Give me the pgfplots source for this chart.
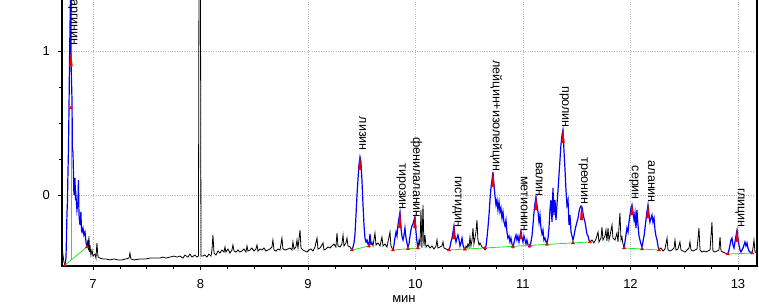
\documentclass[border=0pt]{standalone}
\usepackage{fontspec}
\setmainfont{Liberation Sans}
\usepackage{pgfplots}
\pgfplotsset{compat=1.18}
\definecolor{trgreen}{RGB}{40,225,40}
\definecolor{trblue}{RGB}{0,0,255}
\definecolor{trred}{RGB}{240,0,0}
\newcommand\lbl[3]{\node[rotate=-90, anchor=base east, inner sep=0pt, font=\fontsize{12.5}{14}\selectfont] at (axis cs:#1,#2) {#3};}
\begin{document}
\begin{tikzpicture}
\useasboundingbox (0,0) rectangle (759pt,305pt);
\begin{axis}[
  at={(62pt,39pt)}, anchor=south west,
  width=695pt, height=268pt, scale only axis,
  xmin=6.712, xmax=13.177, ymin=-0.493, ymax=1.368,
  xtick={7,8,9,10,11,12,13}, ytick={0,1},
  minor x tick num=3, minor y tick num=3,
  tick align=outside, xtick pos=bottom, ytick pos=left,
  major tick length=4pt, minor tick length=3pt,
  tick style={black, line width=0.6pt},
  axis line style={line width=1.5pt},
  grid=major, major grid style={dotted, gray!55, line width=0.7pt},
  /pgf/number format/assume math mode=true,
  ticklabel style={font=\fontsize{13}{15}\selectfont, inner sep=0pt},
  xticklabel style={anchor=base, yshift=-18pt},
  yticklabel style={anchor=east, xshift=-8pt},
  xlabel={мин},
  xlabel style={at={(axis description cs:0.492,0)}, anchor=base, yshift=-36pt, inner sep=0pt, font=\fontsize{13}{15}\selectfont},
  clip=true,
]
% raw signal (black)
\addplot[black, line width=0.8pt] coordinates {(6.702,-0.264)(6.712,-0.347)(6.721,-0.417)(6.730,-0.465)(6.740,-0.486)};
\addplot[black, line width=0.8pt] coordinates {
(6.944,-0.361)(6.953,-0.3125)(6.958,-0.382)(6.963,-0.285)(6.967,-0.396)(6.972,-0.347)(6.981,-0.417)(6.991,-0.382)
(7.000,-0.424)(7.019,-0.410)(7.028,-0.438)(7.037,-0.333)(7.047,-0.431)(7.065,-0.438)(7.093,-0.444)(7.121,-0.444)
(7.158,-0.451)(7.195,-0.444)(7.233,-0.451)(7.270,-0.451)(7.307,-0.444)(7.335,-0.438)(7.344,-0.403)(7.353,-0.444)
(7.381,-0.451)(7.437,-0.444)(7.493,-0.444)(7.530,-0.438)(7.577,-0.438)(7.623,-0.438)(7.651,-0.431)(7.679,-0.438)
(7.716,-0.431)(7.753,-0.424)(7.781,-0.431)(7.809,-0.424)(7.837,-0.438)(7.856,-0.417)(7.884,-0.431)(7.902,-0.410)
(7.921,-0.431)(7.949,-0.417)(7.967,-0.431)(7.981,-0.424)(7.986,1.424)(8.000,1.424)(8.005,-0.424)(8.023,-0.424)
(8.042,-0.417)(8.060,-0.431)(8.079,-0.410)(8.098,-0.424)(8.107,-0.382)(8.116,-0.278)(8.126,-0.403)(8.144,-0.417)
(8.163,-0.389)(8.181,-0.403)(8.200,-0.382)(8.219,-0.396)(8.228,-0.361)(8.237,-0.396)(8.256,-0.375)(8.274,-0.403)
(8.293,-0.382)(8.302,-0.347)(8.312,-0.389)(8.330,-0.396)(8.349,-0.382)(8.367,-0.396)(8.386,-0.389)(8.405,-0.375)
(8.423,-0.396)(8.433,-0.354)(8.442,-0.389)(8.460,-0.382)(8.479,-0.368)(8.498,-0.389)(8.516,-0.375)(8.526,-0.347)
(8.535,-0.389)(8.553,-0.375)(8.572,-0.382)(8.591,-0.368)(8.609,-0.389)(8.628,-0.382)(8.647,-0.375)(8.665,-0.361)
(8.674,-0.3125)(8.684,-0.382)(8.702,-0.389)(8.721,-0.375)(8.740,-0.382)(8.758,-0.299)(8.767,-0.375)(8.786,-0.382)
(8.814,-0.375)(8.833,-0.368)(8.851,-0.382)(8.860,-0.326)(8.870,-0.375)(8.888,-0.361)(8.898,-0.3125)(8.907,-0.368)
(8.926,-0.243)(8.935,-0.368)(8.953,-0.382)(8.972,-0.389)(8.991,-0.396)(9.009,-0.382)(9.028,-0.375)(9.047,-0.389)
(9.065,-0.361)(9.084,-0.299)(9.093,-0.375)(9.112,-0.368)(9.130,-0.347)(9.140,-0.333)(9.149,-0.382)(9.167,-0.375)
(9.186,-0.361)(9.205,-0.368)(9.223,-0.354)(9.242,-0.340)(9.260,-0.361)(9.270,-0.264)(9.279,-0.354)(9.298,-0.361)
(9.316,-0.340)(9.326,-0.278)(9.335,-0.354)(9.353,-0.333)(9.363,-0.299)(9.372,-0.354)(9.391,-0.361)(9.409,-0.382)};
\addplot[black, line width=0.8pt] coordinates {
(9.586,-0.347)(9.595,-0.326)(9.605,-0.354)(9.623,-0.264)(9.633,-0.347)(9.651,-0.333)(9.670,-0.354)(9.688,-0.292)
(9.698,-0.354)(9.716,-0.340)(9.735,-0.361)(9.744,-0.326)(9.763,-0.257)(9.772,-0.354)(9.791,-0.382)};
\addplot[black, line width=0.8pt] coordinates {
(10.023,-0.368)(10.033,-0.3125)(10.042,-0.354)(10.051,-0.104)(10.060,-0.368)(10.070,-0.069)(10.079,-0.354)(10.088,-0.278)
(10.098,-0.361)(10.116,-0.347)(10.135,-0.368)(10.153,-0.354)(10.172,-0.375)(10.191,-0.354)(10.200,-0.3125)(10.209,-0.368)
(10.228,-0.361)(10.247,-0.354)(10.256,-0.326)(10.265,-0.368)(10.284,-0.375)(10.312,-0.382)};
\addplot[black, line width=0.8pt] coordinates {
(10.460,-0.382)(10.470,-0.354)(10.479,-0.368)(10.488,-0.340)(10.498,-0.361)(10.507,-0.292)(10.516,-0.354)(10.526,-0.3125)
(10.535,-0.229)(10.544,-0.340)(10.553,-0.299)(10.563,-0.257)(10.572,-0.174)(10.581,-0.3125)(10.591,-0.347)(10.600,-0.333)
(10.619,-0.361)(10.637,-0.368)(10.647,-0.382)};
\addplot[black, line width=0.8pt] coordinates {
(11.623,-0.326)(11.642,-0.3125)(11.660,-0.333)(11.679,-0.306)(11.698,-0.257)(11.707,-0.326)(11.726,-0.299)(11.735,-0.222)
(11.744,-0.3125)(11.763,-0.285)(11.772,-0.243)(11.781,-0.319)(11.791,-0.229)(11.800,-0.3125)(11.809,-0.285)(11.828,-0.208)
(11.837,-0.299)(11.856,-0.3125)(11.874,-0.264)(11.884,-0.326)(11.902,-0.125)(11.912,-0.3125)(11.921,-0.292)(11.930,-0.340)
(11.940,-0.368)};
\addplot[black, line width=0.8pt] coordinates {
(12.265,-0.382)(12.284,-0.368)(12.302,-0.389)(12.321,-0.375)(12.340,-0.299)(12.349,-0.382)(12.367,-0.389)(12.386,-0.382)
(12.405,-0.368)(12.414,-0.3125)(12.423,-0.382)(12.442,-0.375)(12.460,-0.326)(12.470,-0.382)(12.488,-0.389)(12.507,-0.396)
(12.526,-0.382)(12.544,-0.368)(12.553,-0.326)(12.563,-0.382)(12.581,-0.389)(12.600,-0.382)(12.619,-0.375)(12.637,-0.229)
(12.647,-0.382)(12.665,-0.396)(12.684,-0.389)(12.702,-0.396)(12.721,-0.389)(12.740,-0.382)(12.758,-0.188)(12.767,-0.389)
(12.786,-0.396)(12.805,-0.389)(12.823,-0.382)(12.833,-0.292)(12.842,-0.389)(12.860,-0.396)(12.879,-0.403)(12.898,-0.410)
(12.907,-0.410)};
\addplot[black, line width=0.8pt] coordinates {(13.130,-0.403)(13.140,-0.368)(13.149,-0.3125)(13.158,-0.396)(13.177,-0.403)};
% integrated peaks (blue)
\addplot[trblue, line width=1.2pt] coordinates {
(6.740,-0.486)(6.749,-0.438)(6.753,-0.3125)(6.758,-0.139)(6.763,-0.035)(6.767,0.139)(6.772,0.3125)(6.777,0.590)
(6.781,0.868)(6.786,1.146)(6.791,1.389)(6.795,1.389)(6.795,0.951)(6.805,0.660)(6.809,0.3125)(6.814,0.299)
(6.819,0.139)(6.823,0)(6.833,0.118)(6.837,-0.035)(6.842,-0.007)(6.851,-0.104)(6.860,-0.056)(6.865,0.104)
(6.870,-0.139)(6.879,-0.208)(6.888,-0.118)(6.893,-0.243)(6.898,-0.257)(6.907,-0.229)(6.916,-0.278)(6.926,-0.257)
(6.935,-0.326)(6.944,-0.361)};
\addplot[trblue, line width=1.2pt] coordinates {
(9.409,-0.382)(9.419,-0.361)(9.428,-0.333)(9.437,-0.278)(9.447,-0.139)(9.456,0)(9.465,0.104)(9.474,0.208)
(9.484,0.264)(9.493,0.229)(9.502,0.104)(9.512,-0.069)(9.521,-0.208)(9.530,-0.299)(9.540,-0.326)(9.549,-0.3125)
(9.558,-0.340)(9.567,-0.354)(9.577,-0.271)(9.586,-0.347)};
\addplot[trblue, line width=1.2pt] coordinates {
(9.791,-0.382)(9.800,-0.347)(9.809,-0.299)(9.819,-0.257)(9.828,-0.285)(9.837,-0.208)(9.847,-0.160)(9.856,-0.118)
(9.865,-0.229)(9.874,-0.285)(9.884,-0.3125)(9.893,-0.278)(9.902,-0.229)(9.912,-0.299)(9.921,-0.333)(9.930,-0.361)
(9.940,-0.340)(9.949,-0.285)(9.958,-0.243)(9.967,-0.215)(9.977,-0.201)(9.986,-0.174)(9.995,-0.153)(10.005,-0.257)
(10.014,-0.326)(10.023,-0.368)};
\addplot[trblue, line width=1.2pt] coordinates {
(10.312,-0.382)(10.321,-0.361)(10.330,-0.326)(10.340,-0.299)(10.349,-0.257)(10.358,-0.215)(10.367,-0.285)(10.377,-0.326)
(10.386,-0.299)(10.395,-0.278)(10.405,-0.3125)(10.414,-0.354)(10.423,-0.333)(10.433,-0.299)(10.442,-0.347)(10.451,-0.368)
(10.460,-0.382)};
\addplot[trblue, line width=1.2pt] coordinates {
(10.647,-0.382)(10.656,-0.354)(10.665,-0.299)(10.674,-0.229)(10.684,-0.139)(10.693,-0.035)(10.702,0.049)(10.712,0.104)
(10.721,0.160)(10.730,0.069)(10.740,-0.007)(10.749,-0.069)(10.758,-0.035)(10.767,-0.104)(10.777,-0.049)(10.786,-0.118)
(10.795,-0.090)(10.805,-0.160)(10.814,-0.118)(10.823,-0.188)(10.833,-0.215)(10.842,-0.174)(10.851,-0.257)(10.860,-0.299)
(10.870,-0.285)(10.879,-0.326)(10.888,-0.299)(10.898,-0.340)(10.907,-0.361)
(10.916,-0.333)(10.926,-0.299)(10.935,-0.278)(10.944,-0.3125)(10.953,-0.285)(10.963,-0.326)(10.972,-0.285)(10.981,-0.250)
(10.991,-0.299)(11.000,-0.326)(11.009,-0.285)(11.019,-0.3125)(11.028,-0.340)(11.037,-0.3125)(11.047,-0.347)(11.056,-0.361)
(11.065,-0.361)(11.074,-0.326)(11.084,-0.285)(11.093,-0.208)(11.102,-0.125)(11.112,-0.056)(11.121,-0.014)(11.130,-0.069)
(11.140,-0.118)(11.149,-0.188)(11.158,-0.139)(11.167,-0.229)(11.177,-0.271)(11.186,-0.243)(11.195,-0.3125)(11.205,-0.299)
(11.214,-0.326)(11.223,-0.333)
(11.233,-0.299)(11.242,-0.229)(11.251,-0.104)(11.260,-0.035)(11.270,-0.188)(11.279,0.049)(11.288,-0.139)(11.298,-0.035)
(11.307,-0.174)(11.316,-0.069)(11.326,0.035)(11.335,0.139)(11.344,0.243)(11.353,0.347)(11.363,0.417)(11.372,0.451)
(11.381,0.3125)(11.391,0.174)(11.400,0.035)(11.409,-0.069)(11.419,-0.035)(11.428,-0.208)(11.437,-0.139)(11.447,-0.257)
(11.456,-0.285)(11.465,-0.3125)
(11.474,-0.285)(11.484,-0.243)(11.493,-0.215)(11.502,-0.188)(11.512,-0.160)(11.521,-0.118)(11.530,-0.090)(11.540,-0.076)
(11.549,-0.083)(11.558,-0.125)(11.567,-0.160)(11.577,-0.188)(11.586,-0.229)(11.595,-0.271)(11.605,-0.285)(11.614,-0.3125)
(11.623,-0.326)};
\addplot[trblue, line width=1.2pt] coordinates {
(11.940,-0.368)(11.949,-0.326)(11.958,-0.278)(11.967,-0.229)(11.977,-0.257)(11.986,-0.188)(11.995,-0.139)(12.005,-0.090)
(12.014,-0.069)(12.023,-0.118)(12.033,-0.174)(12.042,-0.125)(12.051,-0.229)(12.060,-0.104)(12.070,-0.208)(12.079,-0.285)
(12.088,-0.3125)(12.098,-0.340)(12.107,-0.361)
(12.116,-0.326)(12.126,-0.285)(12.135,-0.229)(12.144,-0.174)(12.153,-0.118)(12.163,-0.069)(12.172,-0.139)(12.181,-0.188)
(12.191,-0.160)(12.200,-0.139)(12.209,-0.188)(12.219,-0.160)(12.228,-0.243)(12.237,-0.285)(12.247,-0.3125)(12.256,-0.354)
(12.265,-0.382)};
\addplot[trblue, line width=1.2pt] coordinates {
(12.907,-0.410)(12.916,-0.382)(12.926,-0.347)(12.935,-0.3125)(12.944,-0.299)(12.953,-0.347)(12.963,-0.368)(12.972,-0.326)
(12.981,-0.285)(12.991,-0.243)(13.000,-0.299)(13.009,-0.347)(13.019,-0.382)(13.028,-0.396)(13.037,-0.382)(13.047,-0.368)
(13.056,-0.347)(13.065,-0.326)(13.074,-0.354)(13.084,-0.333)(13.093,-0.368)(13.102,-0.389)(13.112,-0.396)(13.130,-0.403)};
% baselines (green)
\addplot[trgreen, line width=0.8pt] coordinates {(6.740,-0.486)(6.944,-0.361)};
\addplot[trgreen, line width=0.8pt] coordinates {(6.795,0.604)(6.795,-0.452)};
\addplot[trgreen, line width=0.8pt] coordinates {(9.409,-0.382)(9.567,-0.354)};
\addplot[trgreen, line width=0.8pt] coordinates {(9.791,-0.382)(10.023,-0.368)};
\addplot[trgreen, line width=0.8pt] coordinates {(10.312,-0.382)(11.623,-0.326)};
\addplot[trgreen, line width=0.8pt] coordinates {(11.940,-0.368)(12.265,-0.382)};
\addplot[trgreen, line width=0.8pt] coordinates {(12.907,-0.410)(13.130,-0.403)};
% peak boundary markers (red)
\addplot[only marks, mark=triangle*, mark size=1.8pt, trred] coordinates {
(6.740,-0.486)(6.944,-0.361)(6.795,0.604)
(9.409,-0.382)(9.567,-0.354)
(9.791,-0.382)(9.930,-0.373)(10.023,-0.368)
(10.312,-0.382)(10.460,-0.376)(10.647,-0.368)(10.907,-0.357)(11.065,-0.350)(11.223,-0.343)(11.465,-0.333)(11.623,-0.326)
(11.940,-0.368)(12.107,-0.375)(12.265,-0.382)
(12.907,-0.410)(13.130,-0.403)};
% apex markers (red)
\addplot[draw=trred, fill=trred, line width=0.3pt] coordinates {(6.795,0.986)(6.781,0.895)(6.809,0.895)} -- cycle;
\addplot[draw=trred, fill=trred, line width=0.3pt] coordinates {(9.484,0.264)(9.470,0.174)(9.498,0.174)} -- cycle;
\addplot[draw=trred, fill=trred, line width=0.3pt] coordinates {(9.856,-0.118)(9.842,-0.229)(9.870,-0.229)} -- cycle;
\addplot[draw=trred, fill=trred, line width=0.3pt] coordinates {(9.995,-0.153)(9.981,-0.229)(10.009,-0.229)} -- cycle;
\addplot[draw=trred, fill=trred, line width=0.3pt] coordinates {(10.358,-0.215)(10.344,-0.306)(10.372,-0.306)} -- cycle;
\addplot[draw=trred, fill=trred, line width=0.3pt] coordinates {(10.721,0.160)(10.707,0.056)(10.735,0.056)} -- cycle;
\addplot[draw=trred, fill=trred, line width=0.3pt] coordinates {(10.981,-0.250)(10.967,-0.306)(10.995,-0.306)} -- cycle;
\addplot[draw=trred, fill=trred, line width=0.3pt] coordinates {(11.121,-0.014)(11.107,-0.104)(11.135,-0.104)} -- cycle;
\addplot[draw=trred, fill=trred, line width=0.3pt] coordinates {(11.372,0.451)(11.358,0.361)(11.386,0.361)} -- cycle;
\addplot[draw=trred, fill=trred, line width=0.3pt] coordinates {(11.545,-0.076)(11.531,-0.174)(11.559,-0.174)} -- cycle;
\addplot[draw=trred, fill=trred, line width=0.3pt] coordinates {(12.014,-0.069)(12.000,-0.139)(12.028,-0.139)} -- cycle;
\addplot[draw=trred, fill=trred, line width=0.3pt] coordinates {(12.163,-0.069)(12.149,-0.160)(12.177,-0.160)} -- cycle;
\addplot[draw=trred, fill=trred, line width=0.3pt] coordinates {(12.991,-0.243)(12.977,-0.326)(13.005,-0.326)} -- cycle;
% peak names
\lbl{6.795}{1.035}{аргинин}
\lbl{9.478}{0.306}{лизин}
\lbl{9.847}{-0.104}{тирозин}
\lbl{9.977}{-0.160}{фенилаланин}
\lbl{10.367}{-0.229}{гистидин}
\lbl{10.721}{0.160}{лейцин+изолейцин}
\lbl{10.981}{-0.257}{метионин}
\lbl{11.121}{-0.014}{валин}
\lbl{11.363}{0.465}{пролин}
\lbl{11.540}{-0.069}{треонин}
\lbl{12.014}{-0.035}{серин}
\lbl{12.163}{-0.056}{аланин}
\lbl{13.000}{-0.229}{глицин}
\end{axis}
\end{tikzpicture}
\end{document}
